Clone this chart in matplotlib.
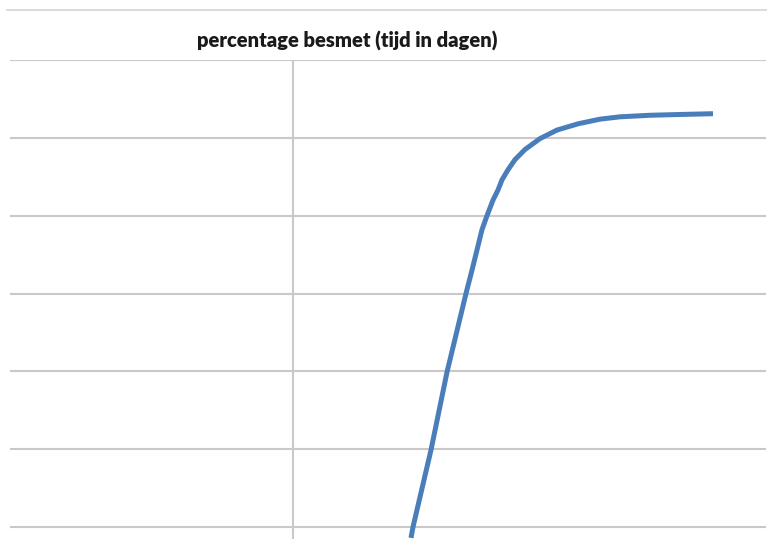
import matplotlib
matplotlib.use("Agg")
import matplotlib.pyplot as plt
from matplotlib.lines import Line2D

# Time in days and percentage infected
days = [11.8, 12.0, 13.8, 15.4, 17.3, 17.9, 18.4, 18.9, 19.4, 20.0,
        20.5, 20.9, 21.5, 22.2, 23.2, 24.7, 26.4, 28.5, 30.7, 32.7,
        35.7, 38.7, 42.0]
besmet = [38.6, 40.0, 49.9, 59.9, 70.0, 73.0, 75.6, 78.2, 80.0, 82.0,
          83.3, 84.6, 85.9, 87.2, 88.5, 89.9, 91.0, 91.8, 92.4, 92.7,
          92.9, 93.0, 93.1]
y_grid = [40, 50, 60, 70, 80, 90, 100]
title = "percentage besmet (tijd in dagen)"

W, H = 767, 539
fig = plt.figure(figsize=(W / 100, H / 100), dpi=100)
fig.patch.set_facecolor("white")

left, right, top, bottom = 10, 766, 60, 539
ax = fig.add_axes([left / W, 1 - bottom / H, (right - left) / W, (bottom - top) / H])
ax.set_xlim(-28.3, 47.3)
ax.set_ylim(38.46, 100)

grid_col = "#c9c9c9"
for g in y_grid:
    ax.axhline(g, color=grid_col, lw=1.5, zorder=1)
ax.axvline(0, color=grid_col, lw=1.5, zorder=1)

ax.plot(days, besmet, color="#4a7ebb", lw=3.6, solid_capstyle="butt",
        solid_joinstyle="round", zorder=3, clip_on=True)

for s in ax.spines.values():
    s.set_visible(False)
ax.set_xticks([])
ax.set_yticks([])

# chart frame edge
fig.add_artist(Line2D([7 / W, 1.0], [1 - 10 / H, 1 - 10 / H],
                      color="#d4d4d4", lw=1.2, transform=fig.transFigure))

fig.text(347 / W, 1 - 41 / H, title, ha="center", va="center",
         fontsize=14.5, fontweight="heavy", family=["Lato", "DejaVu Sans"],
         color="#1a1a1a")

fig.savefig("out.png", dpi=100, facecolor="white")
